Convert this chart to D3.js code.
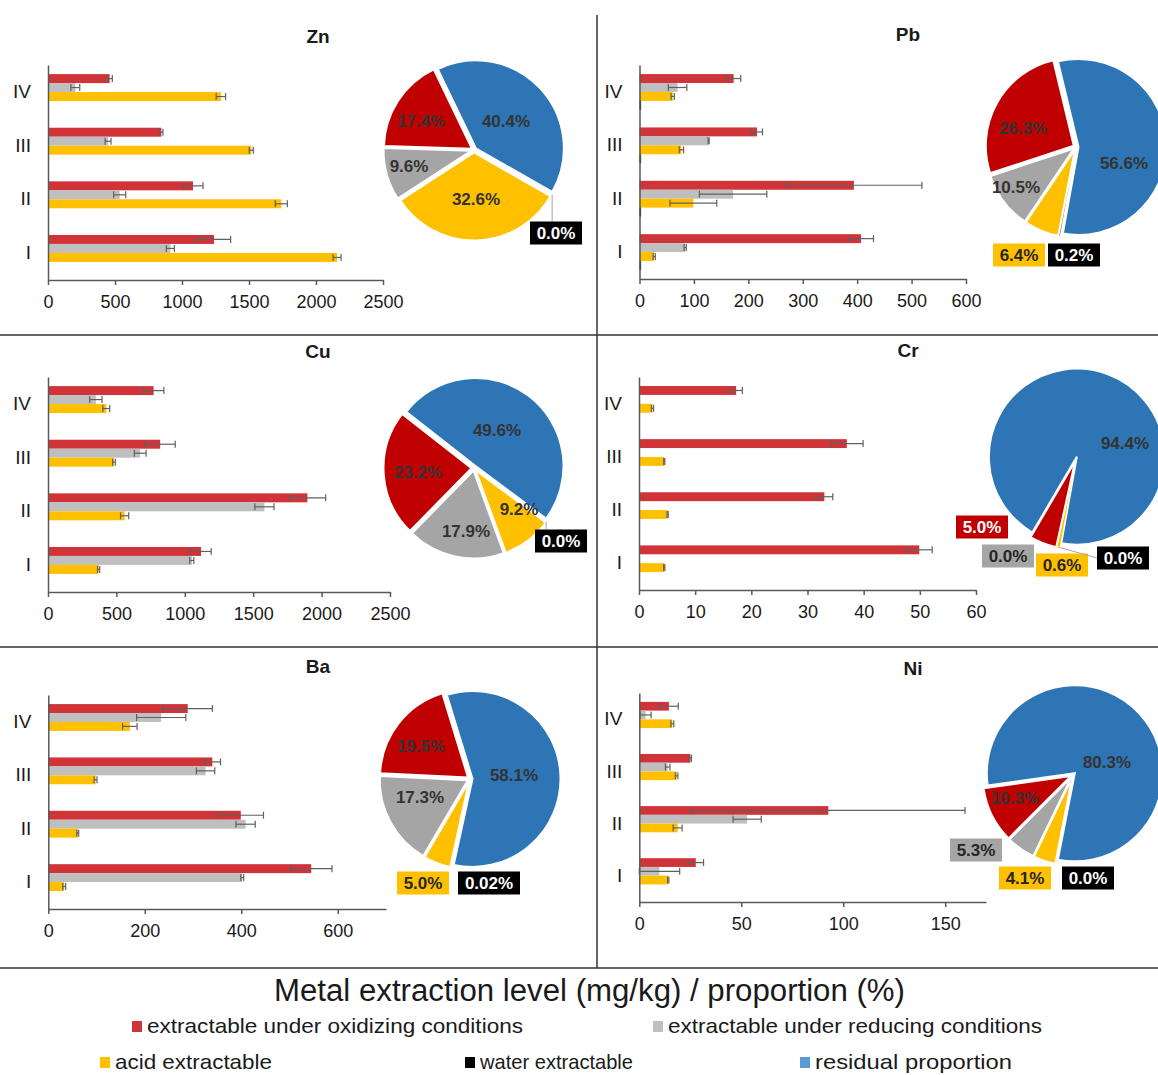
<!DOCTYPE html>
<meta charset="utf-8">
<title>Metal extraction levels</title>
<style>
  body { margin: 0; background: #fff; }
  svg { font-family: "Liberation Sans", Arial, sans-serif; }
  .domain { stroke: #595959; stroke-width: 1.5px; }
  .tick line { stroke: #595959; stroke-width: 1.5px; }
  .xaxis .tick text { font-size: 18px; fill: #1a1a1a; }
  .yaxis .tick text { font-size: 19px; fill: #1a1a1a; }
  .title { font-size: 19px; font-weight: bold; fill: #1a1a1a; }
  .plabel { font-size: 17px; font-weight: bold; }
  .legend text { font-family: "Liberation Sans Narrow", "Arial Narrow", "Liberation Sans", sans-serif; fill: #1a1a1a; }
</style>
<body>
<script src="https://d3js.org/d3.v7.min.js"></script>
<script>

// metals in panel order, sampling sites top to bottom
const metals = ["Zn", "Pb", "Cu", "Cr", "Ba", "Ni"];
const sites = ["IV", "III", "II", "I"];
const fractions = ["oxidizing", "reducing", "acid", "water"];

// mg/kg per metal, values in site order IV, III, II, I
const oxidizing    = [[460, 846, 1082, 1239], [173, 216, 394, 407], [772, 820, 1896, 1119], [17.3, 37.0, 33.0, 49.9], [289, 340, 399, 545], [14.5, 25.1, 92.7, 27.7]];
const oxidizingErr = [[20, 12, 75, 124], [13, 10, 125, 23], [75, 110, 134, 74], [1.1, 2.9, 1.5, 2.3], [51, 17, 47, 43], [4.6, 0.5, 67, 3.8]];
const reducing     = [[204, 448, 535, 913], [70, 127, 172, 84], [350, 674, 1582, 1051], [0, 0, 0, 0], [234, 326, 409, 402], [3.1, 13.9, 52.9, 9.8]];
const reducingErr  = [[33, 22, 45, 30], [17, 1, 62, 2], [45, 43, 70, 15], [0, 0, 0, 0], [51, 19, 20, 3], [2.7, 1.1, 6.9, 10]];
const acid         = [[1290, 1517, 1741, 2157], [61, 77, 99, 27], [426, 482, 560, 370], [2.4, 4.5, 5.1, 4.5], [169, 98, 61, 33], [16.2, 18.3, 18.8, 14.2]];
const acidErr      = [[35, 15, 45, 30], [3, 4, 43, 2], [25, 10, 30, 8], [0.2, 0.1, 0.1, 0.1], [15, 3, 2, 3], [0.7, 0.6, 2.2, 0.3]];
const water        = [[0, 0, 0, 0], [3, 3, 3, 3], [0, 0, 0, 0], [0, 0, 0, 0], [0, 0, 0, 0], [0, 0, 0, 0]];

// x axis ticks per metal (axis runs to xMax)
const xTicks = [[0, 500, 1000, 1500, 2000, 2500], [0, 100, 200, 300, 400, 500, 600], [0, 500, 1000, 1500, 2000, 2500],
                [0, 10, 20, 30, 40, 50, 60], [0, 200, 400, 600], [0, 50, 100, 150]];
const xMax = [2500, 600, 2500, 60, 700, 170];

// pie proportions (%) : oxidizing, reducing, acid, water, residual
const pieShares = [[17.4, 9.6, 32.6, 0.0, 40.4], [26.3, 10.5, 6.4, 0.2, 56.6], [23.2, 17.9, 9.2, 0.0, 49.6],
                   [5.0, 0.0, 0.6, 0.0, 94.4], [19.5, 17.3, 5.0, 0.02, 58.1], [10.3, 5.3, 4.1, 0.0, 80.3]];

const legendNames = ["extractable under oxidizing conditions", "extractable under reducing conditions",
                     "acid extractable", "water extractable", "residual proportion"];

// ---- layout and styles ----
const width = 1158, height = 1075;
const barColor = { oxidizing: "#d13438", reducing: "#bfbfbf", acid: "#ffc000", water: "#1e2a28" };
const pieColor = { oxidizing: "#c00000", reducing: "#a5a5a5", acid: "#ffc000", water: "#000000", residual: "#2e75b6" };
const legendColor = ["#d13438", "#bfbfbf", "#ffc000", "#000000", "#5b9bd5"];

const panels = [
  { x0: 48,    x1: 383, top: 65,  bottom: 280, tx: 318, ty: 36,  cx: 474,  cy: 150, start: -25.7 },
  { x0: 639.5, x1: 966, top: 65,  bottom: 279, tx: 908, ty: 34,  cx: 1076, cy: 147, start: -13.5 },
  { x0: 48,    x1: 390, top: 377, bottom: 592, tx: 318, ty: 351, cx: 474,  cy: 468, start: -52 },
  { x0: 639,   x1: 976, top: 377, bottom: 590, tx: 908, ty: 350, cx: 1076, cy: 459, start: 210.4 },
  { x0: 48.3,  x1: 386, top: 695, bottom: 909, tx: 318, ty: 666, cx: 470,  cy: 779, start: -17 },
  { x0: 639.3, x1: 986, top: 693, bottom: 902, tx: 913, ty: 668, cx: 1073, cy: 775, start: 262 }
];

// where each pie label sits relative to the pie centre; box = label drawn in a coloured box
const pieLabelPos = [
  [{ k: "oxidizing", dx: -53, dy: -29 }, { k: "reducing", dx: -65, dy: 16 }, { k: "acid", dx: 2, dy: 49 },
   { k: "residual", dx: 32, dy: -29 }, { k: "water", dx: 82, dy: 83, box: true, leader: true }],
  [{ k: "oxidizing", dx: -53, dy: -19 }, { k: "reducing", dx: -60, dy: 40 }, { k: "residual", dx: 48, dy: 16 },
   { k: "acid", dx: -57, dy: 108, box: true }, { k: "water", dx: -2, dy: 108, box: true }],
  [{ k: "oxidizing", dx: -56, dy: 4 }, { k: "reducing", dx: -8, dy: 63 }, { k: "acid", dx: 45, dy: 41 },
   { k: "residual", dx: 23, dy: -38 }, { k: "water", dx: 87, dy: 73, box: true, leader: true }],
  [{ k: "residual", dx: 49, dy: -16 }, { k: "oxidizing", dx: -94, dy: 68, box: true }, { k: "reducing", dx: -68, dy: 97, box: true },
   { k: "acid", dx: -14, dy: 106, box: true }, { k: "water", dx: 47, dy: 99, box: true, leader: true }],
  [{ k: "oxidizing", dx: -49, dy: -33 }, { k: "reducing", dx: -50, dy: 18 }, { k: "residual", dx: 44, dy: -4 },
   { k: "acid", dx: -47, dy: 104, box: true }, { k: "water", dx: 19, dy: 104, box: true }],
  [{ k: "residual", dx: 34, dy: -13 }, { k: "oxidizing", dx: -58, dy: 23 }, { k: "reducing", dx: -97, dy: 75, box: true },
   { k: "acid", dx: -48, dy: 103, box: true }, { k: "water", dx: 15, dy: 103, box: true }]
];

const pieR = 88;

const svg = d3.select("body").append("svg")
    .attr("width", width)
    .attr("height", height);

svg.append("rect").attr("width", width).attr("height", height).attr("fill", "#fff");

// panel frame lines
const frame = svg.append("g").attr("stroke", "#333").attr("stroke-width", 1.5);
frame.append("line").attr("x1", 597).attr("x2", 597).attr("y1", 15).attr("y2", 968);
[335, 647, 968].forEach(yy => {
  frame.append("line").attr("x1", 0).attr("x2", width).attr("y1", yy).attr("y2", yy);
});

const seriesByFraction = { oxidizing: oxidizing, reducing: reducing, acid: acid, water: water };
const errByFraction = { oxidizing: oxidizingErr, reducing: reducingErr, acid: acidErr };

const fmtPct = v => (v > 0 && v < 0.1 ? d3.format(".2f")(v) : d3.format(".1f")(v)) + "%";

metals.forEach((metal, i) => {
  const p = panels[i];
  const g = svg.append("g");

  const x = d3.scaleLinear().domain([0, xMax[i]]).range([p.x0, p.x1]);
  const y = d3.scaleBand().domain(sites).range([p.top, p.bottom]).paddingInner(0.33).paddingOuter(0.17);
  const ySub = d3.scaleBand().domain(fractions).range([0, y.bandwidth()]);

  // bars
  fractions.forEach(f => {
    const vals = seriesByFraction[f][i];
    g.append("g").selectAll("rect")
      .data(sites.map((s, j) => ({ site: s, v: vals[j] })))
      .join("rect")
        .attr("x", x(0))
        .attr("y", d => y(d.site) + ySub(f))
        .attr("width", d => x(d.v) - x(0))
        .attr("height", ySub.bandwidth())
        .attr("fill", barColor[f]);
  });

  // error bars
  ["oxidizing", "reducing", "acid"].forEach(f => {
    const vals = seriesByFraction[f][i], errs = errByFraction[f][i];
    const eb = g.append("g").attr("stroke", "#606060").attr("stroke-width", 1.2);
    sites.forEach((s, j) => {
      if (!errs[j]) return;
      const cyy = y(s) + ySub(f) + ySub.bandwidth() / 2;
      const a = x(Math.max(0, vals[j] - errs[j])), b = x(vals[j] + errs[j]);
      eb.append("line").attr("x1", a).attr("x2", b).attr("y1", cyy).attr("y2", cyy);
      [a, b].forEach(xx => eb.append("line").attr("x1", xx).attr("x2", xx).attr("y1", cyy - 3.5).attr("y2", cyy + 3.5));
    });
  });

  g.append("g").attr("class", "xaxis")
    .attr("transform", `translate(0,${p.bottom})`)
    .call(d3.axisBottom(x).tickValues(xTicks[i]).tickFormat(d3.format("d"))
      .tickSize(5).tickSizeOuter(0).tickPadding(10));

  g.append("g").attr("class", "yaxis")
    .attr("transform", `translate(${p.x0},0)`)
    .call(d3.axisLeft(y).tickSize(0).tickPadding(17));

  g.append("text").attr("class", "title")
    .attr("x", p.tx).attr("y", p.ty)
    .attr("text-anchor", "middle").attr("dominant-baseline", "central")
    .text(metal);

  // pie: clockwise residual, water, acid, reducing, oxidizing
  const sh = pieShares[i];
  const pieData = [
    { k: "residual", v: sh[4] }, { k: "water", v: sh[3] }, { k: "acid", v: sh[2] },
    { k: "reducing", v: sh[1] }, { k: "oxidizing", v: sh[0] }
  ];
  const st = p.start * Math.PI / 180;
  const arcs = d3.pie().sort(null).value(d => d.v).startAngle(st).endAngle(st + 2 * Math.PI)(pieData);
  const arc = d3.arc().innerRadius(0).outerRadius(pieR);
  const pg = g.append("g").attr("transform", `translate(${p.cx},${p.cy})`);

  pg.selectAll("path")
    .data(arcs.filter(a => a.data.v > 0))
    .join("path")
      .attr("d", arc)
      .attr("transform", a => {
        const m = (a.startAngle + a.endAngle) / 2;
        return `translate(${2.5 * Math.sin(m)},${-2.5 * Math.cos(m)})`;
      })
      .attr("fill", a => pieColor[a.data.k])
      .attr("stroke", "#fff")
      .attr("stroke-width", a => (a.endAngle - a.startAngle) < 0.06 ? 0.5 : 2);

  // labels
  pieLabelPos[i].forEach(lp => {
    const a = arcs.find(d => d.data.k === lp.k);
    const txt = fmtPct(a.data.v);
    if (lp.box) {
      const bw = txt.length * 10 + 12, bh = 23;
      if (lp.leader) {
        const ang = a.startAngle;
        const px = (pieR + 2) * Math.sin(ang), py = -(pieR + 2) * Math.cos(ang);
        let ex, ey;
        if (px >= lp.dx - bw / 2 && px <= lp.dx + bw / 2) { ex = px; ey = lp.dy - bh / 2; }
        else { ex = px < lp.dx ? lp.dx - bw / 2 : lp.dx + bw / 2; ey = lp.dy; }
        pg.append("line").attr("x1", px).attr("y1", py).attr("x2", ex).attr("y2", ey)
          .attr("stroke", "#a6a6a6").attr("stroke-width", 1);
      }
      pg.append("rect")
        .attr("x", lp.dx - bw / 2).attr("y", lp.dy - bh / 2)
        .attr("width", bw).attr("height", bh)
        .attr("fill", pieColor[lp.k]);
      pg.append("text").attr("class", "plabel")
        .attr("x", lp.dx).attr("y", lp.dy)
        .attr("text-anchor", "middle").attr("dominant-baseline", "central")
        .attr("fill", (lp.k === "water" || lp.k === "oxidizing") ? "#fff" : "#262626")
        .text(txt);
    } else {
      pg.append("text").attr("class", "plabel")
        .attr("x", lp.dx).attr("y", lp.dy)
        .attr("text-anchor", "middle").attr("dominant-baseline", "central")
        .attr("fill", "#333")
        .text(txt);
    }
  });
});

// legend
const lg = svg.append("g").attr("class", "legend");
lg.append("text")
  .attr("x", 274).attr("y", 1001)
  .attr("font-size", 31)
  .attr("textLength", 631).attr("lengthAdjust", "spacingAndGlyphs")
  .text("Metal extraction level (mg/kg) / proportion (%)");

const legendPos = [
  { sx: 132, tx: 147, tw: 376, y: 1026 },
  { sx: 653, tx: 668, tw: 374, y: 1026 },
  { sx: 100, tx: 115, tw: 157, y: 1062 },
  { sx: 465, tx: 480, tw: 153, y: 1062 },
  { sx: 800, tx: 815, tw: 197, y: 1062 }
];
legendNames.forEach((name, k) => {
  const lp = legendPos[k];
  lg.append("rect").attr("x", lp.sx).attr("y", lp.y - 5).attr("width", 10).attr("height", 11)
    .attr("fill", legendColor[k]);
  lg.append("text")
    .attr("x", lp.tx).attr("y", lp.y + 7)
    .attr("font-size", 21)
    .attr("textLength", lp.tw).attr("lengthAdjust", "spacingAndGlyphs")
    .text(name);
});

</script>
</body>
